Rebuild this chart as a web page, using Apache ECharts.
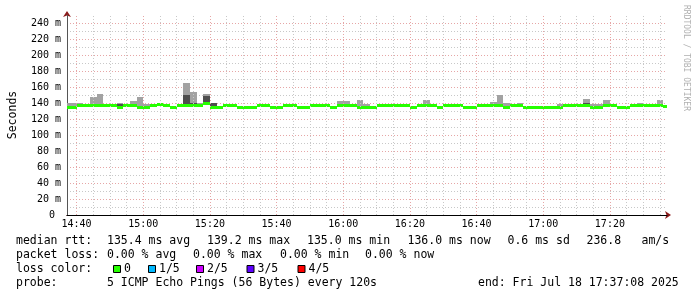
<!DOCTYPE html>
<html><head><meta charset="utf-8">
<script src="https://cdn.jsdelivr.net/npm/echarts@6/dist/echarts.min.js"></script>
<style>html,body{margin:0;padding:0;background:#fff}#c{width:697px;height:297px}</style>
</head><body><div id="c"></div>
<script>
// ---- time base (minutes after 14:00) ----
const startMinute = 36;      // start of first 120 s step
const stepMinutes = 2;
const viewStart = 37.133;    // 14:37:08
const viewEnd = 217.133;     // 17:37:08

// ---- median rtt per step (ms) ----
const median = [
134.3,134.3,136.3,136.3,136.3,136.3,136.3,136.3,134.3,136.3,
136.3,134.3,134.3,136.3,137.8,136.3,134.3,136.3,136.3,136.3,
136.3,139.2,134.3,134.3,136.3,136.3,134.3,134.3,134.3,136.3,
136.3,134.3,134.3,136.3,136.3,134.3,134.3,136.3,136.3,136.3,
134.3,136.3,137.4,136.3,134.3,134.3,134.3,136.3,137.0,136.3,
136.3,136.3,134.3,136.3,136.3,136.3,134.3,136.3,137.4,136.3,
134.3,134.3,136.3,136.3,136.3,136.3,134.3,136.3,136.3,134.3,
134.3,134.3,134.3,134.3,134.3,136.3,136.3,136.3,136.3,134.3,
134.3,136.3,136.3,134.3,134.3,136.3,136.3,136.3,136.3,136.3,
136.0];
// ---- smoke: highest ping per step ----
const smokeHi = [
140,140,139.5,137.3,148,151,139,139,139.5,137.3,
142.5,148,139,137.3,138.8,137.3,135.3,137.3,165,154,
139.5,151,140,135.3,137.3,137.3,135.3,135.3,135.3,137.3,
138.5,135.3,135.3,139,137.3,135.3,135.3,137.3,137.3,137.3,
135.3,142.5,142.5,139,143.7,138.5,135.3,139,138,137.3,
139,137.3,135.3,137.3,143.7,139,135.3,137.3,138.4,138,
135.3,135.3,137.3,137.3,141.2,150.4,140,137.3,140,135.3,
135.3,135.3,135.3,135.3,139,137.3,137.3,137.3,145,138.5,
138.5,143.7,138,135.3,135.3,137.3,140,138.5,137.3,143.7,
137.0];
// ---- smoke: 4th ping per step ----
const smokeQ3 = [
134.9,134.9,139,136.9,138,138.5,136.9,136.9,139,136.9,
137.5,136.5,134.9,136.9,138.4,136.9,134.9,136.9,150,140.4,
137.5,149,140,134.9,136.9,136.9,134.9,134.9,134.9,136.9,
136.9,134.9,134.9,136.9,136.9,134.9,134.9,136.9,136.9,136.9,
134.9,137.2,138,136.9,135.5,134.9,134.9,136.9,137.6,136.9,
136.9,136.9,134.9,136.9,139,136.9,134.9,136.9,138,136.9,
134.9,134.9,136.9,136.9,137.2,137.5,134.9,136.9,136.9,134.9,
134.9,134.9,134.9,134.9,134.9,136.9,136.9,136.9,139.5,134.9,
134.9,137.2,136.9,134.9,134.9,136.9,136.9,136.9,136.9,137.2,
136.6];
// ---- smoke: 2nd ping per step ----
const smokeQ1 = [
133.8,133.8,135.8,135.8,135.8,135.8,135.8,135.8,133.8,135.8,
135.8,133.8,133.8,135.8,137.3,135.8,133.8,135.8,135.8,135.8,
135.8,138.7,133.8,133.8,135.8,135.8,133.8,133.8,133.8,135.8,
135.8,133.8,133.8,135.8,135.8,133.8,133.8,135.8,135.8,135.8,
133.8,135.8,136.9,135.8,133.8,133.8,133.8,135.8,136.5,135.8,
135.8,135.8,133.8,135.8,135.8,135.8,133.8,135.8,136.9,135.8,
133.8,133.8,135.8,135.8,135.8,135.8,133.8,135.8,135.8,133.8,
133.8,133.8,133.8,133.8,133.8,135.8,135.8,135.8,135.8,133.8,
133.8,135.8,135.8,133.8,133.8,135.8,135.8,135.8,135.8,135.8,
135.5];
// ---- smoke: lowest ping per step ----
const smokeLo = [
133.3,133.3,135.3,135.3,135.3,135.3,135.3,135.3,133.3,135.3,
135.3,133.3,133.3,135.3,136.8,135.3,133.3,135.3,135.3,135.3,
135.3,138.2,133.3,133.3,135.3,135.3,133.3,133.3,133.3,135.3,
135.3,133.3,133.3,135.3,135.3,133.3,133.3,135.3,135.3,135.3,
133.3,135.3,136.4,135.3,133.3,133.3,133.3,135.3,136.0,135.3,
135.3,135.3,133.3,135.3,135.3,135.3,133.3,135.3,136.4,135.3,
133.3,133.3,135.3,135.3,135.3,135.3,133.3,135.3,135.3,133.3,
133.3,133.3,133.3,133.3,133.3,135.3,135.3,135.3,135.3,133.3,
133.3,135.3,135.3,133.3,133.3,135.3,135.3,135.3,135.3,135.3,
135.0];

// ---- ticks ----
const xTickValues = [40, 60, 80, 100, 120, 140, 160, 180, 200];
const xTickLabels = ['14:40','15:00','15:20','15:40','16:00','16:20','16:40','17:00','17:20'];
const xGridMinutes = [40,45,50,55,60,65,70,75,80,85,90,95,100,105,110,115,120,125,130,135,140,145,150,155,160,165,170,175,180,185,190,195,200,205,210,215];
const yMax = 250, yInterval = 10, yLabelStep = 20, yTopLabel = 240;

// ---- legend texts ----
const rttRow = [['median rtt:',16],['135.4 ms avg',107],['139.2 ms max',207],['135.0 ms min',307],['136.0 ms now',407.5],['0.6 ms sd',507.5],['236.8',586.5],['am/s',641.5]];
const lossRow = [['packet loss:',16],['0.00 % avg',107],['0.00 % max',193],['0.00 % min',280],['0.00 % now',365]];
const lossColorLabels = ['0','1/5','2/5','3/5','4/5'];
const lossColors = ['#26ff00','#00b8ff','#cc00ff','#5e00ff','#ff0000'];
const lossBoxX = [113, 148, 196, 246.5, 297.5];
const probeRow = [['probe:',16],['5 ICMP Echo Pings (56 Bytes) every 120s',107],['end: Fri Jul 18 17:37:08 2025',478]];

const FONT = '"DejaVu Sans Mono", monospace';
const MAJOR = '#e6a6a6', MINOR = '#c8c8c8';
const MEDIAN_PX = 3;

const stepStart = median.map((_, k) => startMinute + k * stepMinutes);
const outerData = median.map((_, k) => [stepStart[k], stepStart[k] + stepMinutes, smokeLo[k], smokeHi[k]]);
const innerData = median.map((_, k) => [stepStart[k], stepStart[k] + stepMinutes, smokeQ1[k], smokeQ3[k]]);
const medianData = median.map((v, k) => [stepStart[k], stepStart[k] + stepMinutes, v]);

function clipTo(cs, r) {
  return echarts.graphic.clipRectByRect(r, {x: cs.x, y: cs.y, width: cs.width, height: cs.height});
}
function rectRenderer(color) {
  return function (params, api) {
    const p0 = api.coord([api.value(0), api.value(3)]);
    const p1 = api.coord([api.value(1), api.value(2)]);
    const x0 = Math.round(p0[0]), x1 = Math.round(p1[0]);
    const y0 = Math.round(p0[1]), y1 = Math.max(Math.round(p1[1]), y0 + 1);
    const shape = clipTo(params.coordSys, {x: x0, y: y0, width: x1 - x0, height: y1 - y0});
    return shape && {type: 'rect', shape: shape, style: {fill: color}};
  };
}
function medianRenderer(params, api) {
  const p0 = api.coord([api.value(0), api.value(2)]);
  const p1 = api.coord([api.value(1), api.value(2)]);
  const x0 = Math.round(p0[0]), x1 = Math.round(p1[0]);
  const y0 = Math.round(p0[1] - MEDIAN_PX / 2);
  const shape = clipTo(params.coordSys, {x: x0, y: y0, width: x1 - x0, height: MEDIAN_PX});
  return shape && {type: 'rect', shape: shape, style: {fill: '#26ff00'}};
}

const ySplitColors = [];
for (let v = 0; v <= yMax; v += yInterval) ySplitColors.push(v % yLabelStep === 0 ? MAJOR : MINOR);

const graphics = [];
function addText(t, x, y, size, fill) {
  graphics.push({type: 'text', x: x, y: y, silent: true,
    style: {text: t, font: size + 'px ' + FONT, fill: fill || '#000', align: 'left', verticalAlign: 'middle'}});
}
rttRow.forEach(r => addText(r[0], r[1], 241.5, 11.5));
lossRow.forEach(r => addText(r[0], r[1], 255.5, 11.5));
addText('loss color:', 16, 269.5, 11.5);
lossColorLabels.forEach((l, i) => {
  graphics.push({type: 'rect', silent: true, shape: {x: lossBoxX[i] + 0.5, y: 265.5, width: 7, height: 7},
    style: {fill: lossColors[i], stroke: '#000', lineWidth: 1}});
  addText(l, lossBoxX[i] + 11, 269.5, 11.5);
});
probeRow.forEach(r => addText(r[0], r[1], 283.5, 11.5));
graphics.push({type: 'text', x: 686.5, y: 5, rotation: -Math.PI / 2, silent: true,
  style: {text: 'RRDTOOL / TOBI OETIKER', font: '8px ' + FONT, fill: '#b0b0b0', align: 'left', verticalAlign: 'middle'}});

const chart = echarts.init(document.getElementById('c'));
chart.setOption({
  animation: false,
  backgroundColor: '#fff',
  grid: {left: 67, top: 15, width: 600, height: 200, containLabel: false, outerBoundsMode: 'none'},
  xAxis: [{
    type: 'value', min: viewStart, max: viewEnd, z: 1,
    axisLine: {show: true, onZero: false, lineStyle: {color: '#000', width: 1}},
    axisTick: {show: false},
    splitLine: {show: false},
    axisLabel: {customValues: xTickValues, margin: 4, fontFamily: FONT, fontSize: 10, color: '#000',
      formatter: v => { const i = xTickValues.indexOf(Math.round(v)); return i >= 0 ? xTickLabels[i] : ''; }}
  }, {
    type: 'value', min: viewStart, max: viewEnd, z: -1, position: 'bottom',
    axisLine: {show: true, onZero: false, symbol: ['none', 'arrow'], symbolSize: [6, 6], symbolOffset: [0, 4], lineStyle: {color: '#8b1a1a'}},
    axisTick: {show: false}, axisLabel: {show: false}, splitLine: {show: false}
  }],
  yAxis: [{
    type: 'value', min: 0, max: yMax, interval: yInterval, z: 1,
    name: 'Seconds', nameLocation: 'middle', nameGap: 48, nameRotate: 90,
    nameTextStyle: {fontFamily: FONT, fontSize: 11.5, color: '#000'},
    axisLine: {show: true, lineStyle: {color: '#555'}},
    axisTick: {show: false},
    splitLine: {show: true, showMaxLine: false, lineStyle: {color: ySplitColors, type: [1, 2], width: 1}},
    axisLabel: {margin: 6, fontFamily: FONT, fontSize: 10, color: '#000', showMaxLabel: false,
      formatter: v => v === 0 ? '0 ' : ((v % yLabelStep === 0 && v <= yTopLabel) ? v + ' m' : '')}
  }, {
    type: 'value', min: 0, max: yMax, z: -1, position: 'left',
    axisLine: {show: true, symbol: ['none', 'arrow'], symbolSize: [6, 6], symbolOffset: [0, 4], lineStyle: {color: '#8b1a1a'}},
    axisTick: {show: false}, axisLabel: {show: false}, splitLine: {show: false}
  }],
  series: [{
    type: 'line', name: 'vgrid', data: [], silent: true, z: 1,
    markLine: {silent: true, symbol: ['none', 'none'], label: {show: false}, animation: false,
      data: xGridMinutes.map(m => ({xAxis: m, lineStyle: {color: m % 20 === 0 ? MAJOR : MINOR, type: [1, 2], width: 1}}))}
  }, {
    type: 'custom', name: 'smoke outer', data: outerData, z: 2, silent: true,
    encode: {x: [0, 1], y: [2, 3]}, renderItem: rectRenderer('#a2a2a2')
  }, {
    type: 'custom', name: 'smoke inner', data: innerData, z: 3, silent: true,
    encode: {x: [0, 1], y: [2, 3]}, renderItem: rectRenderer('#4e4e4e')
  }, {
    type: 'custom', name: 'median', data: medianData, z: 4, silent: true,
    encode: {x: [0, 1], y: 2}, renderItem: medianRenderer
  }],
  graphic: graphics
});
</script>
</body></html>
